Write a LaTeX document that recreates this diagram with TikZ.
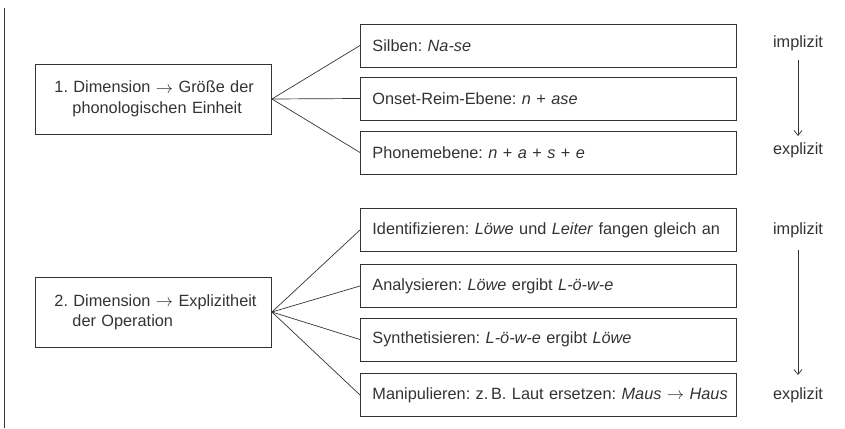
\documentclass[tikz,border=0pt]{standalone}
\usepackage{fontspec}
\setmainfont{Liberation Sans}
\usetikzlibrary{arrows.meta}
\definecolor{ink}{HTML}{333333}
\frenchspacing
\hbadness=10000 \hfuzz=100pt
\newcommand{\hangpad}{\hbox to 18pt{}}
\begin{document}
\begin{tikzpicture}[x=1pt,y=-1pt,
  line/.style={draw=ink, line width=0.9pt},
  dimbox/.style={line, rectangle, anchor=west, minimum width=236pt, minimum height=70pt,
     text width=198pt, inner xsep=19pt, align=left, text=ink, font=\fontsize{16.3}{20}\selectfont},
  itembox/.style={line, rectangle, anchor=west, minimum width=376pt, minimum height=43pt,
     text width=352pt, inner xsep=12pt, align=left, text=ink, font=\fontsize{16.3}{19}\selectfont},
  side/.style={text=ink, font=\fontsize{16.3}{19}\selectfont},
  conn/.style={draw=ink, line width=0.7pt}]
\useasboundingbox (0,0) rectangle (845,428);
\draw[line] (4,8) -- (4,428);
% group 1
\node[dimbox] (d1) at (35,99) {\begin{tabular}{@{}l@{}}1. Dimension $\rightarrow$ Größe der\\\hangpad phonologischen Einheit\end{tabular}};
\node[itembox] (s1) at (360,45.5) {\mbox{Silben: \textit{Na-se}}};
\node[itembox] (s2) at (360,98.5) {\mbox{Onset-Reim-Ebene: \textit{n} + \textit{ase}}};
\node[itembox] (s3) at (360,152.5) {\mbox{Phonemebene: \textit{n} + \textit{a} + \textit{s} + \textit{e}}};
\foreach \n in {s1,s2,s3} \draw[conn] (d1.east) -- (\n.west);
\node[side] (i1) at (798,43) {implizit};
\node[side] (e1) at (798,150) {explizit};
\coordinate (a1s) at (798,60);
\coordinate (a1e) at (798,136);
\draw[conn,-{Straight Barb[length=5pt,width=8pt]}] (a1s) -- (a1e);
% group 2
\node[dimbox] (d2) at (35,312) {\begin{tabular}{@{}l@{}}2. Dimension $\rightarrow$ Explizitheit\\\hangpad der Operation\end{tabular}};
\node[itembox] (t1) at (360,230) {\mbox{Identifizieren: \textit{Löwe} und \textit{Leiter} fangen gleich an}};
\node[itembox] (t2) at (360,286) {\mbox{Analysieren: \textit{Löwe} ergibt \textit{L-ö-w-e}}};
\node[itembox] (t3) at (360,339.5) {\mbox{Synthetisieren: \textit{L-ö-w-e} ergibt \textit{Löwe}}};
\node[itembox] (t4) at (360,395) {\mbox{Manipulieren: z.\,B. Laut ersetzen: \textit{Maus} $\rightarrow$ \textit{Haus}}};
\foreach \n in {t1,t2,t3,t4} \draw[conn] (d2.east) -- (\n.west);
\node[side] (i2) at (798,230) {implizit};
\node[side] (e2) at (798,395) {explizit};
\coordinate (a2s) at (798,250);
\coordinate (a2e) at (798,375);
\draw[conn,-{Straight Barb[length=5pt,width=8pt]}] (a2s) -- (a2e);
\end{tikzpicture}
\end{document}
